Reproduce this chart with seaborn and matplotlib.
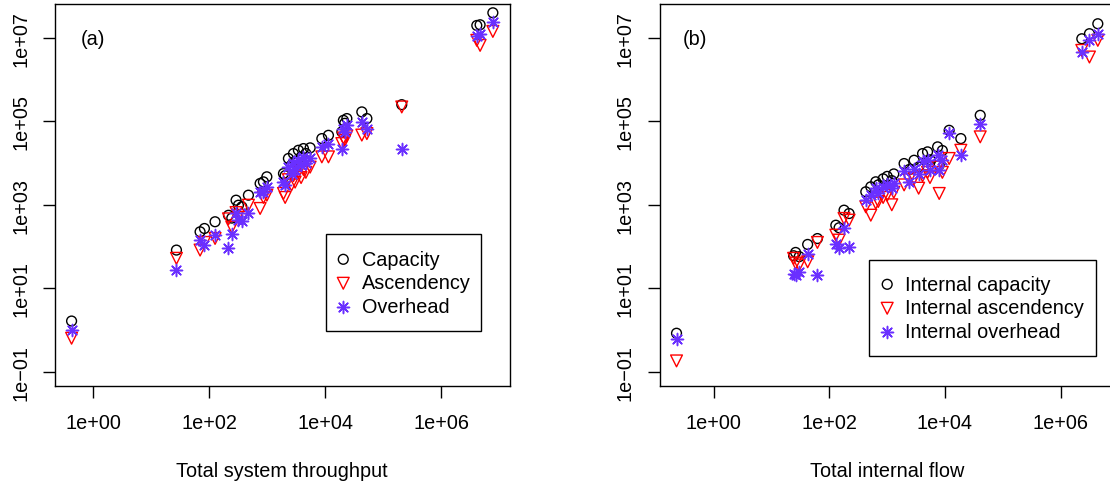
import numpy as np
import matplotlib
matplotlib.use("Agg")
import matplotlib.pyplot as plt
import seaborn as sns
from matplotlib.patches import Rectangle
from matplotlib.ticker import FixedLocator, FuncFormatter, NullLocator

# ---------------- data ----------------
a_throughput = [0.42, 27, 69, 82, 125, 213, 243, 288, 316, 362,
                470, 748, 853, 977, 1890, 2020, 2300, 2600, 2810, 3000,
                3420, 3800, 4180, 4600, 5450, 8670, 11270, 19200, 20400, 21500,
                23400, 42400, 51800, 207000, 4.07e6, 4.64e6, 7.7e6]
a_capacity = [1.63, 82, 225, 270, 392, 560, 480, 1290, 977, 895,
              1700, 3240, 3550, 4690, 5620, 5000, 12900, 9000, 16900, 11000,
              20300, 14000, 22300, 17000, 23200, 38700, 46400, 56100, 106000, 90000,
              117000, 169000, 117000, 252000, 2.0e7, 2.08e7, 4.03e7]
a_ascendency = [0.63, 52, 82, 125, 156, 460, 290, 650, 560, 500,
                977, 817, 1500, 1700, 1870, 1500, 4000, 3000, 5000, 3500,
                6000, 4500, 7000, 6000, 8000, 14100, 14100, 29400, 40000, 35000,
                45000, 47000, 51000, 222000, 8.8e6, 6.66e6, 1.44e7]
a_overhead = [1.0, 27, 142, 108, 187, 90, 200, 640, 420, 400,
              620, 2080, 2000, 2740, 3500, 3000, 8000, 5500, 10000, 7000,
              12000, 9000, 14000, 10000, 13000, 24500, 28000, 22300, 67300, 55000,
              80700, 95000, 65000, 22300, 1.1e7, 1.27e7, 2.42e7]

b_flow = [0.226, 24, 26, 30, 42, 62, 129, 147, 179, 219,
          426, 520, 634, 700, 850, 1000, 1200, 1300, 1960, 2400,
          2920, 3500, 4090, 4990, 5500, 7450, 7940, 9000, 11800, 18800,
          40700, 2.33e6, 3.16e6, 4.41e6]
b_capacity = [0.83, 60, 72, 57, 112, 155, 324, 281, 743, 617,
              2050, 2700, 3560, 3000, 4200, 4800, 3800, 5500, 9750, 7000,
              11700, 8000, 16900, 18600, 12000, 24500, 9000, 20000, 61200, 38700,
              140000, 9.6e6, 1.27e7, 2.2e7]
b_ascendency = [0.18, 52, 40, 36, 43, 125, 187, 142, 470, 428,
                895, 563, 1100, 1200, 1500, 1700, 1000, 2000, 3000, 4000,
                4300, 2500, 5000, 6000, 4500, 8000, 1870, 6000, 12900, 20300,
                42600, 5.05e6, 3.5e6, 8.8e6]
b_overhead = [0.60, 22, 21, 25, 65, 21, 117, 90, 280, 98,
              1290, 1700, 2460, 1900, 2700, 3100, 2500, 3400, 6500, 3500,
              7400, 5500, 11500, 12000, 7000, 16000, 7000, 12000, 51300, 15400,
              88500, 4.6e6, 8.8e6, 1.27e7]

a_labels = ["Capacity", "Ascendency", "Overhead"]
b_labels = ["Internal capacity", "Internal ascendency", "Internal overhead"]
x_ticks = [1e0, 1e2, 1e4, 1e6]
y_ticks = [1e-1, 1e1, 1e3, 1e5, 1e7]
y_range = [0.1, 3e7]

# ---------------- style ----------------
sns.set_style("ticks")
plt.rcParams['font.family'] = ['Liberation Sans', 'DejaVu Sans']
plt.rcParams.update({"text.color": "black", "axes.labelcolor": "black",
                     "xtick.color": "black", "ytick.color": "black",
                     "axes.edgecolor": "black"})
FS = 14.3
PURPLE = "#6A30FF"


def sci(v, _):
    e = int(round(np.log10(v)))
    sign = "+" if e >= 0 else "\u2212"
    return f"1e{sign}{abs(e):02d}"


def draw(ax, x, cap, asc, ovh, labels, xlabel, tag, tagx, legpos, legbox):
    sns.scatterplot(x=x, y=cap, ax=ax, marker="o", s=50, facecolors="none",
                    edgecolor="black", color="black", linewidth=1.0, label=labels[0])
    sns.scatterplot(x=x, y=asc, ax=ax, marker="v", s=72, facecolors="none",
                    edgecolor="red", color="red", linewidth=1.0, label=labels[1])
    sns.scatterplot(x=x, y=ovh, ax=ax, marker=(8, 2, 0), s=75,
                    edgecolor=PURPLE, color=PURPLE, linewidth=1.1, label=labels[2])
    ax.set_xscale("log")
    ax.set_yscale("log")
    lx = np.log10(np.asarray(x, dtype=float))
    lo, hi = lx.min(), lx.max()
    p = 0.04 * (hi - lo)
    ax.set_xlim(10 ** (lo - p), 10 ** (hi + p))
    ly = np.log10(y_range)
    p = 0.04 * (ly[1] - ly[0])
    ax.set_ylim(10 ** (ly[0] - p), 10 ** (ly[1] + p))
    ax.xaxis.set_major_locator(FixedLocator(x_ticks))
    ax.yaxis.set_major_locator(FixedLocator(y_ticks))
    ax.xaxis.set_minor_locator(NullLocator())
    ax.yaxis.set_minor_locator(NullLocator())
    ax.xaxis.set_major_formatter(FuncFormatter(sci))
    ax.yaxis.set_major_formatter(FuncFormatter(sci))
    ax.tick_params(axis="both", direction="out", length=8.8, width=1.0,
                   labelsize=FS, color="black", labelcolor="black")
    ax.tick_params(axis="x", pad=11)
    ax.tick_params(axis="y", pad=9)
    for lab in ax.get_yticklabels():
        lab.set_rotation(90)
        lab.set_va("center")
        lab.set_ha("right")
    for sp in ax.spines.values():
        sp.set_visible(True)
        sp.set_linewidth(1.0)
        sp.set_color("black")
    ax.set_xlabel(xlabel, fontsize=FS, color="black")
    ax.set_ylabel("")
    ax.xaxis.set_label_coords(0.5, -0.2227)
    ax.xaxis.label.set_verticalalignment("center")
    ax.text(tagx, 0.910, tag, transform=ax.transAxes, ha="center", va="center",
            fontsize=FS, color="black")
    leg = ax.legend(loc="upper left", bbox_to_anchor=legpos, borderaxespad=0,
                    frameon=False, borderpad=0, labelspacing=0.25, handlelength=0.8,
                    handletextpad=0.52, fontsize=FS)
    for t in leg.get_texts():
        t.set_color("black")
    ax.add_patch(Rectangle(legbox[:2], legbox[2], legbox[3], transform=ax.transAxes,
                           facecolor="none", edgecolor="black", linewidth=1.0,
                           zorder=6))


fig = plt.figure(figsize=(11.1, 4.89), dpi=100)
axA = fig.add_axes([0.0493, 0.2092, 0.4099, 0.7806])
axB = fig.add_axes([0.5943, 0.2092, 0.4099, 0.7806])

draw(axA, a_throughput, a_capacity, a_ascendency, a_overhead, a_labels,
     "Total system throughput", "(a)", 0.0831, (0.6167, 0.3568),
     (0.5956, 0.1441, 0.3407, 0.2533))
draw(axB, b_flow, b_capacity, b_ascendency, b_overhead, b_labels,
     "Total internal flow", "(b)", 0.0787, (0.4826, 0.2913),
     (0.4607, 0.0770, 0.4976, 0.2531))

fig.savefig("out.png", dpi=100)
